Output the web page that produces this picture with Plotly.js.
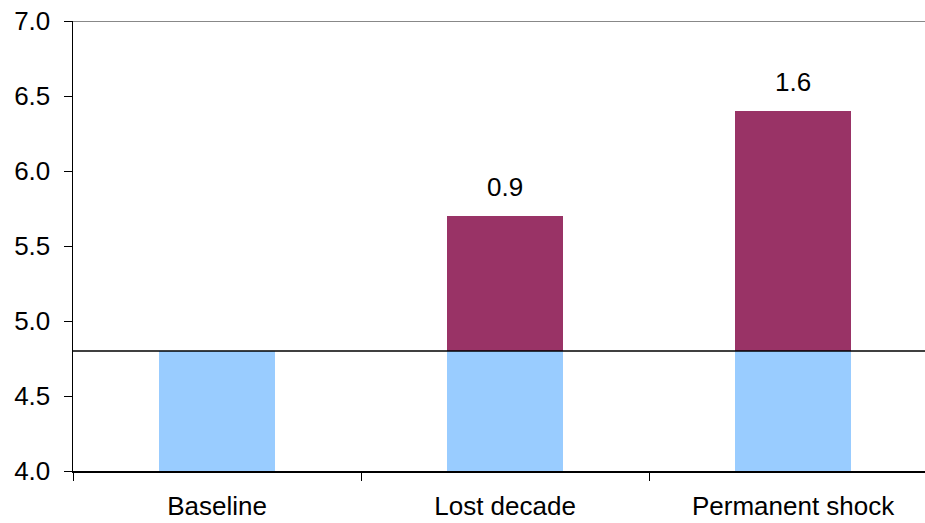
<!DOCTYPE html>
<html>
<head>
<meta charset="utf-8">
<script src="https://cdn.plot.ly/plotly-3.0.1.min.js"></script>
<style>
  html, body { margin: 0; padding: 0; background: #fff; }
  #chart { width: 925px; height: 523px; }
</style>
</head>
<body>
<div id="chart"></div>
<script>
// Scenarios and their values
const categories = ["Baseline", "Lost decade", "Permanent shock"];
const baseValues = [4.8, 4.8, 4.8];
const extraValues = [0, 0.9, 1.6];
const yTicks = [4.0, 4.5, 5.0, 5.5, 6.0, 6.5, 7.0];
const referenceLevel = 4.8;

const font = "Liberation Sans, Arial, sans-serif";
const fontSize = 26;

const traces = [
  {
    type: "bar",
    x: categories,
    y: baseValues,
    marker: { color: "#99CCFF" },
    width: 0.4,
    hoverinfo: "skip"
  },
  {
    type: "bar",
    x: categories,
    y: extraValues,
    marker: { color: "#993366" },
    width: 0.4,
    hoverinfo: "skip"
  }
];

// Value labels above the stacked increments
const annotations = categories.map((c, i) => extraValues[i] > 0 ? {
  x: c,
  y: baseValues[i] + extraValues[i],
  xref: "x", yref: "y",
  text: extraValues[i].toFixed(1),
  showarrow: false,
  yanchor: "bottom",
  yshift: 12,
  font: { family: font, size: fontSize, color: "#000" }
} : null).filter(a => a);

const layout = {
  width: 925,
  height: 523,
  margin: { l: 73, r: 0, t: 21, b: 52 },
  paper_bgcolor: "#fff",
  plot_bgcolor: "#fff",
  barmode: "stack",
  showlegend: false,
  font: { family: font, size: fontSize, color: "#000" },
  xaxis: {
    type: "category",
    range: [-0.5, 2.458],
    showline: true,
    linecolor: "#000",
    linewidth: 1.5,
    ticks: "outside",
    tickson: "boundaries",
    ticklen: 8,
    tickcolor: "#000",
    tickwidth: 1,
    ticklabelstandoff: 11,
    showgrid: false,
    zeroline: false,
    tickfont: { family: font, size: fontSize, color: "#000" }
  },
  yaxis: {
    range: [4.0, 7.0],
    tickvals: yTicks,
    ticktext: yTicks.map(v => v.toFixed(1)),
    showline: true,
    linecolor: "#000",
    linewidth: 1.5,
    ticks: "outside",
    ticklen: 8,
    tickcolor: "#000",
    tickwidth: 1,
    ticklabelstandoff: 8,
    showgrid: false,
    zeroline: false,
    tickfont: { family: font, size: fontSize, color: "#000" }
  },
  shapes: [
    {
      type: "line", xref: "paper", yref: "y",
      x0: 0, x1: 1, y0: referenceLevel, y1: referenceLevel,
      line: { color: "#000", width: 1.5 }
    },
    {
      type: "line", xref: "paper", yref: "y",
      x0: 0, x1: 1, y0: 7.0, y1: 7.0,
      line: { color: "#888", width: 2 }
    }
  ],
  annotations: annotations
};

Plotly.newPlot("chart", traces, layout, { displayModeBar: false, staticPlot: true });
</script>
</body>
</html>
